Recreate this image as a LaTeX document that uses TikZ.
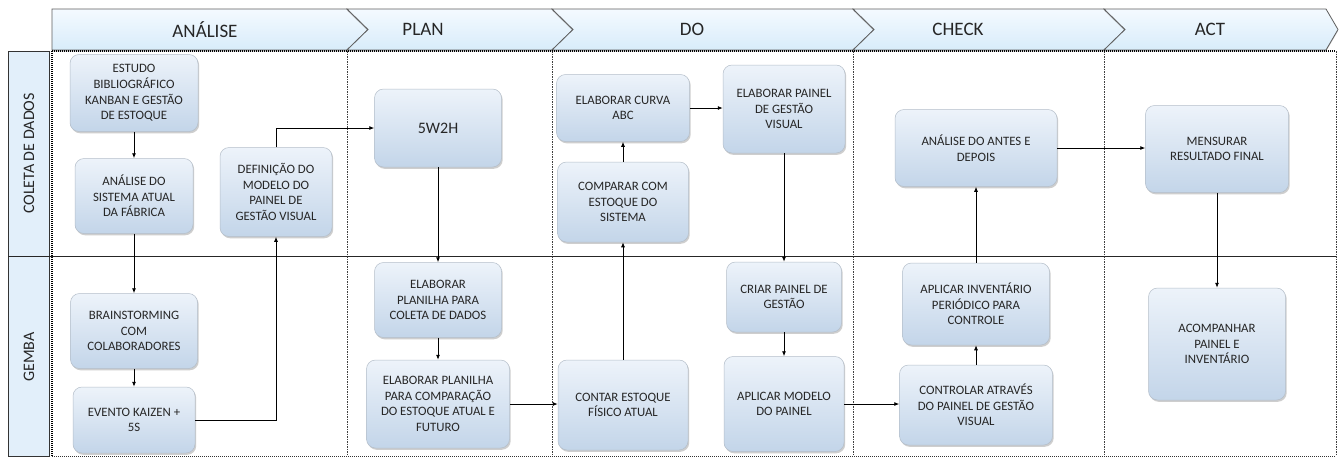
\documentclass[tikz,border=0pt]{standalone}
\usepackage{fontspec}
\setmainfont{Carlito}
\usetikzlibrary{arrows.meta,shadows,calc}
\definecolor{nodetop}{HTML}{EDF3FA}
\definecolor{nodebot}{HTML}{C3D5E9}
\definecolor{nodeborder}{HTML}{B4BEC9}
\definecolor{hdrtop}{HTML}{F4FAFF}
\definecolor{hdrbot}{HTML}{D8ECFA}
\definecolor{hdrline}{HTML}{5E5E5E}
\definecolor{lanefill}{HTML}{E2EFFA}
\definecolor{txt}{HTML}{262626}
\tikzset{
  box/.style={rounded corners=9pt, top color=nodetop, bottom color=nodebot,
    draw=nodeborder, line width=0.5pt, inner sep=1pt, align=center,
    font=\fontsize{12.8}{15.6}\selectfont, text=txt,
    drop shadow={shadow xshift=1.2pt, shadow yshift=-1.8pt, opacity=0.35, fill=black!55}},
  chev/.style={top color=hdrtop, bottom color=hdrbot, draw=hdrline, line width=0.8pt,
    drop shadow={shadow xshift=0pt, shadow yshift=-1.5pt, opacity=0.35, fill=black!60}},
  hdrtext/.style={font=\fontsize{19}{22}\selectfont, text=txt},
  lanetext/.style={font=\fontsize{16}{19}\selectfont, text=txt, rotate=90},
  conn/.style={draw=black, line width=0.8pt, -{Latex[length=5pt,width=4pt]}},
  coldiv/.style={draw=black!75, line width=0.6pt, dash pattern=on 1.5pt off 1pt},
  border/.style={draw=black, line width=1.2pt, dash pattern=on 1pt off 1pt}
}
\begin{document}
\begin{tikzpicture}[x=1pt,y=-1pt]
\useasboundingbox (0,0) rectangle (1339,459);
\fill[white] (0,0) rectangle (1339,459);

% header chevrons
\path[chev] (52,9) -- (347,9) -- (368,29.5) -- (347,50) -- (52,50) -- cycle;
\path[chev] (347,9) -- (552,9) -- (573,29.5) -- (552,50) -- (347,50) -- (368,29.5) -- cycle;
\path[chev] (552,9) -- (853,9) -- (874,29.5) -- (853,50) -- (552,50) -- (573,29.5) -- cycle;
\path[chev] (853,9) -- (1104,9) -- (1125,29.5) -- (1104,50) -- (853,50) -- (874,29.5) -- cycle;
\path[chev] (1104,9) -- (1326,9) -- (1338,29.5) -- (1326,50) -- (1104,50) -- (1125,29.5) -- cycle;
\node[hdrtext] (h1) at (205,29.5) {ANÁLISE};
\node[hdrtext] (h2) at (423,29.5) {PLAN};
\node[hdrtext] (h3) at (692,29.5) {DO};
\node[hdrtext] (h4) at (958,29.5) {CHECK};
\node[hdrtext] (h5) at (1210,29.5) {ACT};

% lane labels
\draw[fill=lanefill, draw=black!80, line width=0.8pt] (8,51) rectangle (49,256);
\draw[fill=lanefill, draw=black!80, line width=0.8pt] (8,256) rectangle (49,456);
\node[lanetext] (l1) at (29,153.5) {COLETA DE DADOS};
\node[lanetext] (l2) at (29,357) {GEMBA};

% grid
\foreach \x in {347,552,853,1104,1336} \draw[coldiv] (\x,51) -- (\x,456);
\draw[border] (52,51) -- (1336,51);
\draw[border] (52,51) -- (52,456);
\draw[black!80, line width=0.6pt, dash pattern=on 1pt off 1pt] (52,456) -- (1336,456);
\draw[black!85, line width=0.8pt] (8,256) -- (1336,256);

% nodes
\node[box, minimum width=128pt, minimum height=77pt] (e1) at (134,93) {ESTUDO\\BIBLIOGRÁFICO\\KANBAN E GESTÃO\\DE ESTOQUE};
\node[box, minimum width=118pt, minimum height=75pt] (e2) at (134,196) {ANÁLISE DO\\SISTEMA ATUAL\\DA FÁBRICA};
\node[box, minimum width=112pt, minimum height=89pt] (e3) at (276,192) {DEFINIÇÃO DO\\MODELO DO\\PAINEL DE\\GESTÃO VISUAL};
\node[box, minimum width=127pt, minimum height=75pt] (e4) at (134,331) {BRAINSTORMING\\COM\\COLABORADORES};
\node[box, minimum width=122pt, minimum height=66pt] (e5) at (134,420) {EVENTO KAIZEN +\\5S};

\node[box, minimum width=127pt, minimum height=78pt, font=\fontsize{16}{19}\selectfont] (w) at (438,128) {5W2H};
\node[box, minimum width=127pt, minimum height=75pt] (e7) at (438,300) {ELABORAR\\PLANILHA PARA\\COLETA DE DADOS};
\node[box, minimum width=143pt, minimum height=88pt] (e8) at (438,404) {ELABORAR PLANILHA\\PARA COMPARAÇÃO\\DO ESTOQUE ATUAL E\\FUTURO};

\node[box, minimum width=133pt, minimum height=67pt] (e9) at (623,108) {ELABORAR CURVA\\ABC};
\node[box, minimum width=131pt, minimum height=80pt] (e10) at (623,202) {COMPARAR COM\\ESTOQUE DO\\SISTEMA};
\node[box, minimum width=130pt, minimum height=90pt] (e14) at (623,405) {CONTAR ESTOQUE\\FÍSICO ATUAL};

\node[box, minimum width=122pt, minimum height=88pt] (e11) at (784,109) {ELABORAR PAINEL\\DE GESTÃO\\VISUAL};
\node[box, minimum width=115pt, minimum height=70pt] (e12) at (784,297) {CRIAR PAINEL DE\\GESTÃO};
\node[box, minimum width=120pt, minimum height=95pt] (e13) at (784,404) {APLICAR MODELO\\DO PAINEL};

\node[box, minimum width=162pt, minimum height=77pt] (e15) at (976,148) {ANÁLISE DO ANTES E\\DEPOIS};
\node[box, minimum width=147pt, minimum height=82pt] (e16) at (976,304) {APLICAR INVENTÁRIO\\PERIÓDICO PARA\\CONTROLE};
\node[box, minimum width=153pt, minimum height=80pt] (e17) at (976,405) {CONTROLAR ATRAVÉS\\DO PAINEL DE GESTÃO\\VISUAL};

\node[box, minimum width=143pt, minimum height=87pt] (e18) at (1217,149) {MENSURAR\\RESULTADO FINAL};
\node[box, minimum width=137pt, minimum height=112pt] (e19) at (1217,344) {ACOMPANHAR\\PAINEL E\\INVENTÁRIO};

% connectors
\draw[conn] (e1.south) -- (e2.north);
\draw[conn] (e2.south) -- (e4.north);
\draw[conn] (e4.south) -- (e5.north);
\draw[conn] (e5.east) -| (e3.south);
\draw[conn] (e3.north) |- (w.west);
\draw[conn] (w.south) -- (e7.north);
\draw[conn] (e7.south) -- (e8.north);
\draw[conn] (e8.east) -- (e8.east -| e14.west);
\draw[conn] (e14.north) -- (e10.south);
\draw[conn] (e10.north) -- (e9.south);
\draw[conn] (e9.east) -- (e9.east -| e11.west);
\draw[conn] (e11.south) -- (e12.north);
\draw[conn] (e12.south) -- (e13.north);
\draw[conn] (e13.east) -- (e13.east -| e17.west);
\draw[conn] (e17.north) -- (e16.south);
\draw[conn] (e16.north) -- (e15.south);
\draw[conn] (e15.east) -- (e15.east -| e18.west);
\draw[conn] (e18.south) -- (e19.north);
\end{tikzpicture}
\end{document}
